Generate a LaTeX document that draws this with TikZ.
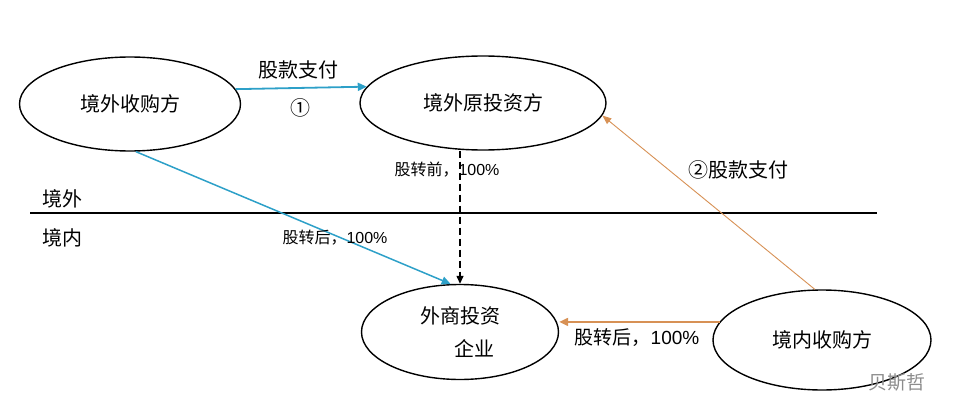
\documentclass[tikz,border=0pt]{standalone}
\usepackage{fontspec}
\setmainfont{Liberation Sans}
\newfontfamily\cjk{Noto Sans CJK SC}
\usepackage{tikz}
\usetikzlibrary{shapes.geometric,arrows.meta}

\definecolor{payblue}{RGB}{45,160,200}
\definecolor{payorange}{RGB}{215,145,85}

\begin{document}
\begin{tikzpicture}[x=1pt,y=-1pt,
  party/.style={ellipse,draw,line width=1.4pt,font=\cjk\fontsize{20}{26}\selectfont,inner sep=0pt},
  lbl/.style={font=\fontsize{16}{18}\selectfont},
  pay/.style={draw=payblue,line width=1.8pt,-{Triangle[length=9pt,width=8pt]}},
  own/.style={draw=payorange,line width=1.8pt,-{Triangle[length=9pt,width=8pt]}},
  paythin/.style={draw=payorange,line width=0.9pt,-{Triangle[length=9pt,width=7pt]}}]
\useasboundingbox (0,0) rectangle (959,420);
\node[party,minimum width=221pt,minimum height=94pt] (JWS) at (130,104){境外收购方};
\node[party,minimum width=246pt,minimum height=94pt] (JWY) at (483,103){境外原投资方};
\node[party,minimum width=197pt,minimum height=95pt,align=left] (WSQ) at (460,332){外商投资\\[7pt]\hspace{1.7em}企业};
\node[party,minimum width=218pt,minimum height=100pt] (JNS) at (822,340){境内收购方};
% boundary
\coordinate (bl) at (30,213);
\coordinate (br) at (877,213);
\draw[line width=1.2pt] (bl) -- (br);
\node[font=\cjk\fontsize{20}{24}\selectfont] (JW) at (62,199){境外};
\node[font=\cjk\fontsize{20}{24}\selectfont] (JN) at (62,238){境内};
% flows
\draw[pay] (JWS.8) -- (JWY.172);
\draw[pay,line width=1.5pt] (JWS.-83) -- (WSQ.101);
\draw[line width=1.3pt,dash pattern=on 7pt off 4pt,-{Triangle[length=8pt,width=7pt]}] (WSQ.north |- JWY.south) -- (WSQ.north);
\draw[own] (JNS.170) -- (JNS.170 -| WSQ.east);
\draw[paythin] (JNS.98) -- (JWY.-6);
% labels
\node[font=\cjk\fontsize{20}{24}\selectfont] (L1) at (298,70){股款支付};
\node[font=\cjk\fontsize{20}{24}\selectfont] (L2) at (300,108){①};
\node[lbl] (L3) at (447,170){{\cjk 股转前，}100\%};
\node[lbl] (L4) at (335,238){{\cjk 股转后，}100\%};
\node[font=\cjk\fontsize{20}{24}\selectfont] (L5) at (738,170){②股款支付};
\node[font=\fontsize{19}{22}\selectfont] (L6) at (637,338){{\cjk 股转后，}100\%};
\node[font=\cjk\fontsize{19}{22}\selectfont,text=black!45] (WM) at (897,382){贝斯哲};
\end{tikzpicture}
\end{document}
